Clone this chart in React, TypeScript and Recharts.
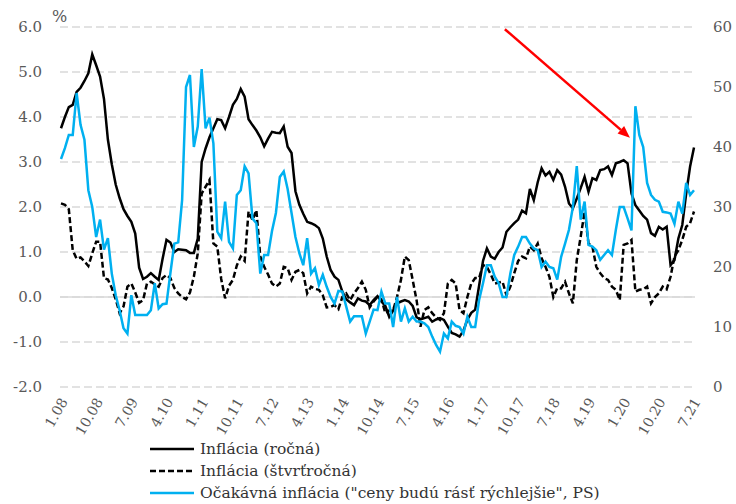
import React from "react";
import { LineChart, Line, XAxis, YAxis, CartesianGrid, ReferenceLine } from "recharts";

// Monthly data, 1.08 .. 7.21
const annual = [
  3.75, 4.0, 4.22, 4.27, 4.56, 4.65, 4.8, 4.97, 5.39, 5.15,
  4.9, 4.4, 3.5, 2.95, 2.5, 2.2, 1.95, 1.8, 1.67, 1.41,
  0.65, 0.4, 0.45, 0.53, 0.45, 0.38, 0.85, 1.27, 1.21, 1.0,
  1.06, 1.05, 1.04, 0.98, 0.98, 1.3, 3.0, 3.3, 3.55, 3.75,
  3.95, 3.93, 3.75, 4.0, 4.27, 4.4, 4.62, 4.45, 3.95, 3.82,
  3.7, 3.55, 3.35, 3.52, 3.67, 3.65, 3.64, 3.79, 3.34, 3.2,
  2.35, 2.05, 1.85, 1.67, 1.64, 1.6, 1.53, 1.3, 0.9, 0.6,
  0.45, 0.38, 0.12, -0.05, -0.12, -0.18, -0.03, -0.08, -0.1, -0.18,
  -0.07, 0.02, -0.1, -0.2, -0.44, -0.3, -0.14, -0.1, -0.07, -0.1,
  -0.2, -0.45, -0.5, -0.47, -0.44, -0.55, -0.5, -0.47, -0.51, -0.66,
  -0.8, -0.83, -0.88, -0.75, -0.5, -0.35, -0.28, 0.25, 0.8, 1.08,
  0.9, 0.85, 1.0, 1.1, 1.45, 1.55, 1.64, 1.72, 1.92, 1.86,
  2.4, 2.15, 2.55, 2.86, 2.7, 2.78, 2.6, 2.82, 2.72, 2.45,
  2.08, 1.97, 2.19, 2.42, 2.67, 2.34, 2.64, 2.6, 2.82, 2.84,
  2.9, 2.71, 2.97, 3.0, 3.04, 2.97, 2.3, 2.04, 1.92, 1.8,
  1.72, 1.42, 1.36, 1.56, 1.5, 1.56, 0.71, 0.82, 1.3, 1.6,
  2.3, 2.9, 3.32,
];

const quarterly = [
  2.08, 2.05, 1.95, 1.04, 0.85, 0.88, 0.79, 0.69, 0.97, 1.23,
  1.23, 0.42, 0.39, 0.2, -0.05, -0.36, -0.21, 0.23, 0.3, 0.1,
  -0.13, -0.07, 0.3, 0.34, 0.28, 0.23, 0.42, 0.49, 0.42, 0.2,
  0.08, 0.0, -0.05, 0.1, 0.45, 0.97, 2.3, 2.45, 2.6, 1.19,
  1.12, 0.4, -0.03, 0.25, 0.38, 0.7, 0.9, 0.8, 1.9, 1.71,
  1.93, 0.9, 0.67, 0.5, 0.3, 0.23, 0.3, 0.67, 0.64, 0.38,
  0.56, 0.6, 0.53, 0.08, 0.23, 0.18, 0.16, 0.04, -0.23, -0.22,
  -0.18, -0.27, 0.0, 0.08, -0.07, 0.08, 0.2, 0.34, 0.16, -0.23,
  -0.1, 0.0, -0.05, -0.36, -0.3, -0.29, 0.0, 0.38, 0.9, 0.82,
  0.38, -0.07, -0.66, -0.29, -0.23, -0.36, -0.45, -0.51, -0.36, 0.3,
  0.38, 0.3, -0.29, -0.36, 0.0, 0.3, 0.42, 0.42, 0.71, 0.67,
  0.5, 0.3, 0.32, 0.34, 0.04, 0.23, 0.53, 0.8, 0.9, 0.86,
  1.12, 1.04, 1.19, 0.86, 0.67, 0.45, 0.0, 0.2, 0.19, 0.34,
  0.08, -0.14, 0.82, 1.34, 1.9, 1.19, 1.12, 0.67, 0.53, 0.42,
  0.38, 0.23, 0.16, -0.07, 1.16, 1.19, 1.27, 0.12, 0.16, 0.17,
  0.23, -0.14, 0.0, 0.08, 0.23, 0.17, 0.45, 0.9, 1.04, 1.27,
  1.56, 1.64, 1.9,
];

const expected = [
  38, 39.8, 42, 42, 49, 43.7, 41.2, 32.8, 30, 25,
  27.9, 22.9, 24.8, 18.9, 15.3, 12.8, 9.8, 8.9, 15.3, 12,
  12, 12, 12, 12.8, 17.3, 13.1, 13.8, 13.9, 19, 23.9,
  24.1, 31.2, 50, 52, 40, 43.4, 53, 43.1, 44.9, 40.6,
  25.9, 24.8, 30.9, 24.2, 23.1, 32, 32.8, 36.8, 35.6, 28.1,
  27.3, 18.9, 22, 22, 26, 29, 35, 35.9, 33, 29,
  25, 22.3, 20.3, 24.8, 18.9, 19.8, 17, 18.7, 16.7, 15,
  13.9, 16, 15.9, 13.4, 10.9, 11.8, 11.8, 11.8, 8.9, 10.9,
  12.9, 12.8, 15.9, 13.9, 13.9, 10, 15, 10.9, 13.1, 10.9,
  11.7, 10.9, 10.9, 10.6, 10, 8.4, 7.0, 5.9, 8.9, 8.1,
  10.9, 10.2, 10, 8.9, 11.7, 10, 10, 14.5, 17.3, 20.3,
  20.3, 18.4, 17.3, 15, 15, 18.9, 22, 23.4, 25, 25,
  23.9, 23.1, 22.8, 20, 20.9, 20, 19.8, 17.9, 21.7, 23.9,
  26.2, 30, 36.8, 27.9, 30.9, 23.7, 23.4, 22.8, 21.2, 22,
  22.8, 22, 26.2, 30, 30, 28.1, 26.1, 46.8, 42, 40,
  34, 32, 31.2, 30.9, 29.2, 29.1, 28.9, 27.2, 30.9, 28.9,
  34, 32, 32.8,
];

const X_TICK_LABELS = [
  "1.08", "10.08", "7.09", "4.10", "1.11", "10.11", "7.12", "4.13", "1.14", "10.14",
  "7.15", "4.16", "1.17", "10.17", "7.18", "4.19", "1.20", "10.20", "7.21",
];
const TICK_STEP = 9; // months between labels
const LEFT_TICKS = [-2, -1, 0, 1, 2, 3, 4, 5, 6];
const RIGHT_TICKS = [0, 10, 20, 30, 40, 50, 60];
const SERIES_NAMES = [
  "Inflácia (ročná)",
  "Inflácia (štvrťročná)",
  'Očakávná inflácia ("ceny budú rásť rýchlejšie", PS)',
];
// Annotation arrow in data units (month index, left-axis %)
const ARROW_FROM = { x: 113.6, y: 5.95 };
const ARROW_TO = { x: 145.6, y: 3.54 };

const data = annual.map((v, i) => ({
  idx: i,
  annual: v,
  quarterly: quarterly[i],
  expected: expected[i],
}));
const xTicks = X_TICK_LABELS.map((_, i) => i * TICK_STEP);

const FONT = "DejaVu Serif";
const TICK_COLOR = "#595959";
const GRID_COLOR = "#d9d9d9";

const XTick = (props: any) => {
  const { x, y, payload } = props;
  const label = X_TICK_LABELS[Math.round(payload.value / TICK_STEP)];
  const ax = x + 3;
  const ay = y + 12;
  return (
    <text
      x={ax}
      y={ay}
      transform={`rotate(-60, ${ax}, ${ay})`}
      textAnchor="end"
      dy="0.35em"
      fill={TICK_COLOR}
      fontSize={14}
      fontFamily={FONT}
    >
      {label}
    </text>
  );
};

const fmtLeft = (v: number) => v.toFixed(1);

const ArrowShape = (props: any) => {
  const { x1, y1, x2, y2 } = props;
  if ([x1, y1, x2, y2].some((v) => typeof v !== "number" || isNaN(v))) return null;
  const ang = Math.atan2(y2 - y1, x2 - x1);
  const len = 12;
  const hw = 5;
  const bx = x2 - len * Math.cos(ang);
  const by = y2 - len * Math.sin(ang);
  const px = -Math.sin(ang);
  const py = Math.cos(ang);
  return (
    <g>
      <line x1={x1} y1={y1} x2={bx} y2={by} stroke="#ff0000" strokeWidth={2.5} />
      <polygon
        points={`${x2},${y2} ${bx + px * hw},${by + py * hw} ${bx - px * hw},${by - py * hw}`}
        fill="#ff0000"
      />
    </g>
  );
};

const legendStyles = [
  { stroke: "#000000", dash: undefined },
  { stroke: "#000000", dash: "6 3" },
  { stroke: "#00b0f0", dash: undefined },
];

export default function App() {
  return (
    <div style={{ position: "absolute", left: 0, top: 0, width: 736, height: 504, background: "#fff" }}>
      <LineChart
        width={736}
        height={504}
        data={data}
        margin={{ top: 27, right: 0, left: 0, bottom: 57 }}
      >
        <CartesianGrid
          yAxisId="left"
          vertical={false}
          stroke={GRID_COLOR}
          strokeWidth={1.3}
          strokeDasharray="8 4"
        />
        <XAxis
          dataKey="idx"
          type="number"
          domain={[0, 162]}
          ticks={xTicks}
          interval={0}
          padding={{ left: 1, right: 1 }}
          axisLine={false}
          tickLine={false}
          tickSize={0}
          tickMargin={0}
          height={60}
          tick={<XTick />}
        />
        <YAxis
          yAxisId="left"
          orientation="left"
          domain={[-2, 6]}
          ticks={LEFT_TICKS}
          tickFormatter={fmtLeft}
          axisLine={false}
          tickLine={false}
          tickSize={0}
          tickMargin={18}
          width={60}
          tick={{ fill: TICK_COLOR, fontSize: 15, fontFamily: FONT }}
        />
        <YAxis
          yAxisId="right"
          orientation="right"
          domain={[0, 60]}
          ticks={RIGHT_TICKS}
          axisLine={false}
          tickLine={false}
          tickSize={0}
          tickMargin={18}
          width={41}
          tick={{ fill: TICK_COLOR, fontSize: 15, fontFamily: FONT, textAnchor: "start" }}
        />
        <ReferenceLine yAxisId="left" y={0} stroke={GRID_COLOR} strokeWidth={1.5} />
        <Line
          yAxisId="left"
          dataKey="annual"
          name={SERIES_NAMES[0]}
          stroke="#000000"
          strokeWidth={2.5}
          dot={false}
          isAnimationActive={false}
        />
        <Line
          yAxisId="left"
          dataKey="quarterly"
          name={SERIES_NAMES[1]}
          stroke="#000000"
          strokeWidth={2.5}
          strokeDasharray="6 3"
          dot={false}
          isAnimationActive={false}
        />
        <Line
          yAxisId="right"
          dataKey="expected"
          name={SERIES_NAMES[2]}
          stroke="#00b0f0"
          strokeWidth={2.5}
          dot={false}
          isAnimationActive={false}
        />
        <ReferenceLine
          yAxisId="left"
          segment={[ARROW_FROM, ARROW_TO]}
          ifOverflow="visible"
          shape={ArrowShape}
        />
      </LineChart>
      <div
        style={{
          position: "absolute",
          left: 52,
          top: 7,
          fontFamily: FONT,
          fontSize: 16,
          color: TICK_COLOR,
        }}
      >
        %
      </div>
      <div style={{ position: "absolute", left: 150, top: 438, fontFamily: FONT, fontSize: 15.5, color: "#333" }}>
        {SERIES_NAMES.map((name, i) => (
          <div key={name} style={{ display: "flex", alignItems: "center", height: 22 }}>
            <svg width={46} height={10} style={{ marginRight: 4 }}>
              <line
                x1={0}
                y1={5}
                x2={44}
                y2={5}
                stroke={legendStyles[i].stroke}
                strokeWidth={2.5}
                strokeDasharray={legendStyles[i].dash}
              />
            </svg>
            <span style={{ whiteSpace: "nowrap" }}>{name}</span>
          </div>
        ))}
      </div>
    </div>
  );
}
